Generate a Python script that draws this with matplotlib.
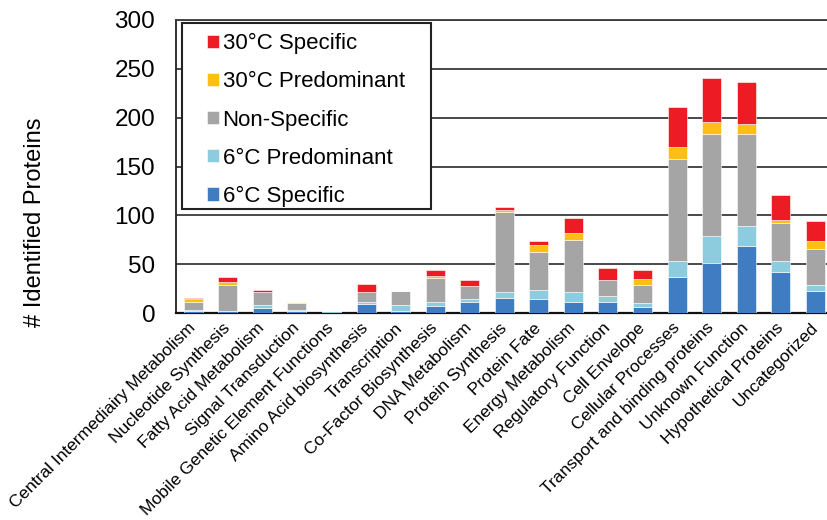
import numpy as np
import matplotlib
matplotlib.use("Agg")
import matplotlib.pyplot as plt
from matplotlib.patches import Rectangle

plt.rcParams['font.family'] = ['Liberation Sans', 'DejaVu Sans']

categories = ["Central Intermediairy Metabolism", "Nucleotide Synthesis",
              "Fatty Acid Metabolism", "Signal Transduction",
              "Mobile Genetic Element Functions", "Amino Acid biosynthesis",
              "Transcription", "Co-Factor Biosynthesis", "DNA Metabolism",
              "Protein Synthesis", "Protein Fate", "Energy Metabolism",
              "Regulatory Function", "Cell Envelope", "Cellular Processes",
              "Transport and binding proteins", "Unknown Function",
              "Hypothetical Proteins", "Uncategorized"]

# stacked from the bottom up
c6_specific = [2, 2, 5, 2, 0, 9, 2, 7, 11, 15, 14, 11, 11, 6, 37, 51, 69, 42, 23]
c6_predominant = [1, 0, 3, 1, 2, 2, 6, 4, 3, 7, 10, 10, 6, 4, 16, 28, 20, 11, 6]
non_specific = [8, 27, 13, 7, 0, 11, 15, 25, 14, 81, 38, 54, 17, 19, 105, 104, 94, 39, 37]
c30_predominant = [3, 3, 0, 1, 0, 0, 0, 2, 0, 2, 8, 7, 0, 6, 12, 13, 11, 3, 8]
c30_specific = [1, 5, 3, 0, 0, 8, 0, 6, 6, 4, 4, 15, 12, 9, 41, 45, 43, 26, 20]

series = [
    ("6°C Specific", c6_specific, "#3F7CC2"),
    ("6°C Predominant", c6_predominant, "#8DCCDF"),
    ("Non-Specific", non_specific, "#A5A5A5"),
    ("30°C Predominant", c30_predominant, "#FDC010"),
    ("30°C Specific", c30_specific, "#ED1C24"),
]

fig = plt.figure(figsize=(8.27, 5.2), dpi=100)
ax = fig.add_axes([176 / 827, 1 - 313 / 520, 651 / 827, 293 / 520])

x = np.arange(len(categories))
bottom = np.zeros(len(categories))
handles = []
for name, vals, color in series:
    vals = np.array(vals, dtype=float)
    b = ax.bar(x, vals, 0.55, bottom=bottom, color=color, label=name,
               edgecolor="white", linewidth=0.4, zorder=3)
    handles.append(b)
    bottom += vals

ax.set_xlim(-0.5, 18.34)
ax.set_ylim(0, 300)
ax.set_yticks(range(0, 301, 50))
ax.yaxis.grid(True, color="#3a3a3a", linewidth=1.3, zorder=0)
ax.set_axisbelow(True)

ax.spines['right'].set_visible(False)
ax.spines['top'].set_color("#3a3a3a")
ax.spines['top'].set_linewidth(1.3)
ax.spines['left'].set_color("#222222")
ax.spines['left'].set_linewidth(1.3)
ax.spines['bottom'].set_color("#111111")
ax.spines['bottom'].set_linewidth(1.6)

ax.tick_params(axis='y', length=0, pad=15, labelsize=17.5)
ax.tick_params(axis='x', length=0, pad=9)
ax.set_xticks(x)
ax.set_xticklabels(categories, rotation=45, ha='right', va='center',
                   rotation_mode='anchor', fontsize=12.5)

fig.text(35 / 827, 1 - 222 / 520, "# Identified Proteins", rotation=90,
         ha='center', va='center', fontsize=17)

# legend box (white, black frame), contents placed inside it
box = Rectangle((0.0092, 0.355), 0.3825, 0.635, transform=ax.transAxes,
                facecolor="white", edgecolor="#222222", linewidth=1.5,
                zorder=4, clip_on=False)
ax.add_patch(box)
leg = ax.legend(handles[::-1], [s[0] for s in series][::-1],
                loc='upper left', bbox_to_anchor=(0.0476, 0.955),
                borderaxespad=0, borderpad=0, fontsize=16, frameon=False,
                labelspacing=0.77, handlelength=0.55, handleheight=0.55,
                handletextpad=0.15)
leg.set_zorder(5)

fig.savefig("out.png", dpi=100)
